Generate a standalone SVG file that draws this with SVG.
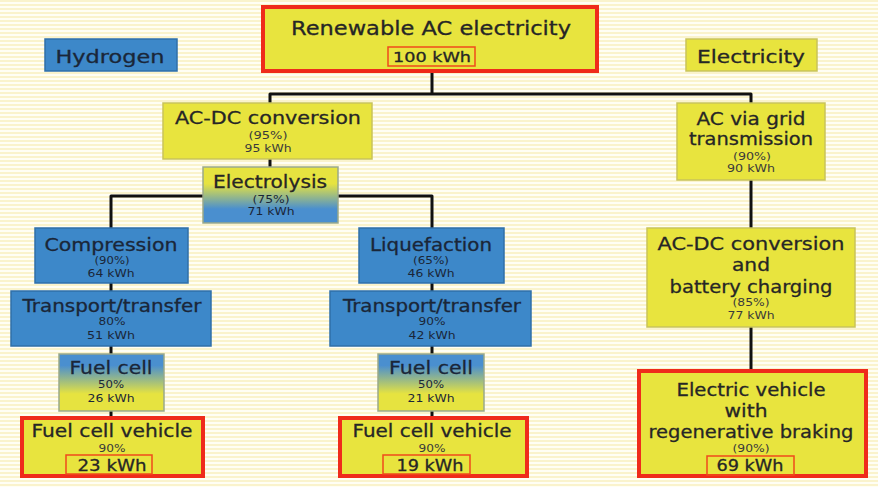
<svg xmlns="http://www.w3.org/2000/svg" width="878" height="487" viewBox="0 0 878 487">
<defs>
<pattern id="stripes" width="8" height="4" patternUnits="userSpaceOnUse">
<rect width="8" height="4" fill="#fffef4"/>
<rect y="0" width="8" height="2" fill="#faf3cc"/>
</pattern>
<linearGradient id="yb" x1="0" y1="0" x2="0" y2="1">
<stop offset="0.3" stop-color="#e6e340"/>
<stop offset="0.75" stop-color="#4a8fcf"/>
</linearGradient>
<linearGradient id="by" x1="0" y1="0" x2="0" y2="1">
<stop offset="0.2" stop-color="#4a8fcf"/>
<stop offset="0.7" stop-color="#e6e340"/>
</linearGradient>
<style>
.y{fill:#e8e43e;stroke:#c9c35a;stroke-width:1.5}
.b{fill:#3d88c9;stroke:#2f6fa8;stroke-width:1.5}
.g1{fill:url(#yb);stroke:#9aa98a;stroke-width:1.5}
.g2{fill:url(#by);stroke:#9aa98a;stroke-width:1.5}
.red{fill:#e8e43e;stroke:#ef2b1b;stroke-width:4}
.rbox{fill:none;stroke:#ef4a1b;stroke-width:1.5}
text{font-family:"DejaVu Sans","Liberation Sans",Arial,sans-serif;text-anchor:middle}
.t{font-size:18px;fill:#262626;stroke:#262626;stroke-width:0.3}
.tb{font-size:18px;fill:#1a2638;stroke:#1a2638;stroke-width:0.3}
.s{font-size:10px;fill:#3a3a3a}
.sb{font-size:10px;fill:#1a2638}
.k{font-size:16px;fill:#262626;stroke:#262626;stroke-width:0.3}
.c{fill:none;stroke:#111;stroke-width:3;stroke-linejoin:round}
</style>
</defs>
<rect width="878" height="487" fill="url(#stripes)"/>

<g id="connectors">
<path class="c" d="M432,72 V94"/>
<path class="c" d="M270,103 V94 H751 V103"/>
<path class="c" d="M270,159 V167"/>
<path class="c" d="M203,196 H111 V228"/>
<path class="c" d="M338,196 H432 V228"/>
<path class="c" d="M111,283 V291 M111,346 V354 M111,411 V418"/>
<path class="c" d="M432,283 V291 M432,346 V354 M432,411 V418"/>
<path class="c" d="M751,180 V228 M751,327 V371"/>
</g>

<g id="hydrogen">
<rect class="b" x="45" y="39" width="132" height="32"/>
<text class="tb" x="110" y="63" textLength="109" lengthAdjust="spacingAndGlyphs">Hydrogen</text>
</g>
<g id="electricity">
<rect class="y" x="686" y="39" width="131" height="32"/>
<text class="t" x="751" y="63" textLength="108" lengthAdjust="spacingAndGlyphs">Electricity</text>
</g>

<g id="renewable">
<rect class="red" x="263" y="7" width="334" height="64"/>
<text class="t" x="431" y="35" style="font-size:20px" textLength="280" lengthAdjust="spacingAndGlyphs">Renewable AC electricity</text>
<rect class="rbox" x="388" y="47" width="87" height="19"/>
<text class="t" x="432" y="62" style="font-size:14px" textLength="78" lengthAdjust="spacingAndGlyphs">100 kWh</text>
</g>

<g id="acdc1">
<rect class="y" x="163" y="103" width="209" height="56"/>
<text class="t" x="268" y="124" textLength="186" lengthAdjust="spacingAndGlyphs">AC-DC conversion</text>
<text class="s" x="268" y="139" textLength="39" lengthAdjust="spacingAndGlyphs">(95%)</text>
<text class="s" x="268" y="152" textLength="47" lengthAdjust="spacingAndGlyphs">95 kWh</text>
</g>

<g id="electrolysis">
<rect class="g1" x="203" y="167" width="135" height="56"/>
<text class="t" x="270" y="188" textLength="114" lengthAdjust="spacingAndGlyphs">Electrolysis</text>
<text class="sb" x="271" y="203" textLength="37" lengthAdjust="spacingAndGlyphs">(75%)</text>
<text class="sb" x="271" y="215" textLength="47" lengthAdjust="spacingAndGlyphs">71 kWh</text>
</g>

<g id="compression">
<rect class="b" x="35" y="228" width="153" height="55"/>
<text class="tb" x="111" y="251" textLength="133" lengthAdjust="spacingAndGlyphs">Compression</text>
<text class="sb" x="112" y="264" textLength="35" lengthAdjust="spacingAndGlyphs">(90%)</text>
<text class="sb" x="111" y="277" textLength="47" lengthAdjust="spacingAndGlyphs">64 kWh</text>
</g>
<g id="transport1">
<rect class="b" x="11" y="291" width="200" height="55"/>
<text class="tb" x="112" y="312" textLength="179" lengthAdjust="spacingAndGlyphs">Transport/transfer</text>
<text class="sb" x="112" y="325" textLength="27" lengthAdjust="spacingAndGlyphs">80%</text>
<text class="sb" x="111" y="339" textLength="48" lengthAdjust="spacingAndGlyphs">51 kWh</text>
</g>
<g id="fuelcell1">
<rect class="g2" x="59" y="354" width="105" height="57"/>
<text class="tb" x="111" y="374" textLength="83" lengthAdjust="spacingAndGlyphs">Fuel cell</text>
<text class="sb" x="111" y="388" textLength="26" lengthAdjust="spacingAndGlyphs">50%</text>
<text class="sb" x="111" y="402" textLength="47" lengthAdjust="spacingAndGlyphs">26 kWh</text>
</g>
<g id="fcv1">
<rect class="red" x="22" y="418" width="181" height="58"/>
<text class="t" x="112" y="437" textLength="161" lengthAdjust="spacingAndGlyphs">Fuel cell vehicle</text>
<text class="s" x="112" y="452" textLength="27" lengthAdjust="spacingAndGlyphs">90%</text>
<rect class="rbox" x="66" y="455" width="86" height="19"/>
<text class="k" x="112" y="471" textLength="69" lengthAdjust="spacingAndGlyphs">23 kWh</text>
</g>

<g id="liquefaction">
<rect class="b" x="359" y="228" width="145" height="55"/>
<text class="tb" x="431" y="251" textLength="122" lengthAdjust="spacingAndGlyphs">Liquefaction</text>
<text class="sb" x="431" y="264" textLength="36" lengthAdjust="spacingAndGlyphs">(65%)</text>
<text class="sb" x="431" y="277" textLength="47" lengthAdjust="spacingAndGlyphs">46 kWh</text>
</g>
<g id="transport2">
<rect class="b" x="330" y="291" width="201" height="55"/>
<text class="tb" x="432" y="312" textLength="178" lengthAdjust="spacingAndGlyphs">Transport/transfer</text>
<text class="sb" x="432" y="325" textLength="27" lengthAdjust="spacingAndGlyphs">90%</text>
<text class="sb" x="432" y="339" textLength="47" lengthAdjust="spacingAndGlyphs">42 kWh</text>
</g>
<g id="fuelcell2">
<rect class="g2" x="378" y="354" width="106" height="57"/>
<text class="tb" x="431" y="374" textLength="84" lengthAdjust="spacingAndGlyphs">Fuel cell</text>
<text class="sb" x="431" y="388" textLength="26" lengthAdjust="spacingAndGlyphs">50%</text>
<text class="sb" x="431" y="402" textLength="47" lengthAdjust="spacingAndGlyphs">21 kWh</text>
</g>
<g id="fcv2">
<rect class="red" x="340" y="418" width="187" height="58"/>
<text class="t" x="432" y="437" textLength="159" lengthAdjust="spacingAndGlyphs">Fuel cell vehicle</text>
<text class="s" x="432" y="452" textLength="27" lengthAdjust="spacingAndGlyphs">90%</text>
<rect class="rbox" x="383" y="455" width="87" height="19"/>
<text class="k" x="430" y="471" textLength="67" lengthAdjust="spacingAndGlyphs">19 kWh</text>
</g>

<g id="grid">
<rect class="y" x="677" y="103" width="148" height="77"/>
<text class="t" x="751" y="125" textLength="109" lengthAdjust="spacingAndGlyphs">AC via grid</text>
<text class="t" x="751" y="145" textLength="124" lengthAdjust="spacingAndGlyphs">transmission</text>
<text class="s" x="752" y="160" textLength="38" lengthAdjust="spacingAndGlyphs">(90%)</text>
<text class="s" x="751" y="172" textLength="48" lengthAdjust="spacingAndGlyphs">90 kWh</text>
</g>
<g id="acdc2">
<rect class="y" x="647" y="228" width="208" height="99"/>
<text class="t" x="751" y="250" textLength="187" lengthAdjust="spacingAndGlyphs">AC-DC conversion</text>
<text class="t" x="751" y="271" textLength="38" lengthAdjust="spacingAndGlyphs">and</text>
<text class="t" x="751" y="293" textLength="163" lengthAdjust="spacingAndGlyphs">battery charging</text>
<text class="s" x="751" y="306" textLength="37" lengthAdjust="spacingAndGlyphs">(85%)</text>
<text class="s" x="751" y="319" textLength="47" lengthAdjust="spacingAndGlyphs">77 kWh</text>
</g>
<g id="ev">
<rect class="red" x="639" y="371" width="227" height="105"/>
<text class="t" x="751" y="396" textLength="149" lengthAdjust="spacingAndGlyphs">Electric vehicle</text>
<text class="t" x="746" y="417" textLength="43" lengthAdjust="spacingAndGlyphs">with</text>
<text class="t" x="751" y="438" textLength="205" lengthAdjust="spacingAndGlyphs">regenerative braking</text>
<text class="s" x="751" y="452" textLength="37" lengthAdjust="spacingAndGlyphs">(90%)</text>
<rect class="rbox" x="707" y="456" width="87" height="19"/>
<text class="k" x="750" y="471" textLength="67" lengthAdjust="spacingAndGlyphs">69 kWh</text>
</g>
</svg>
